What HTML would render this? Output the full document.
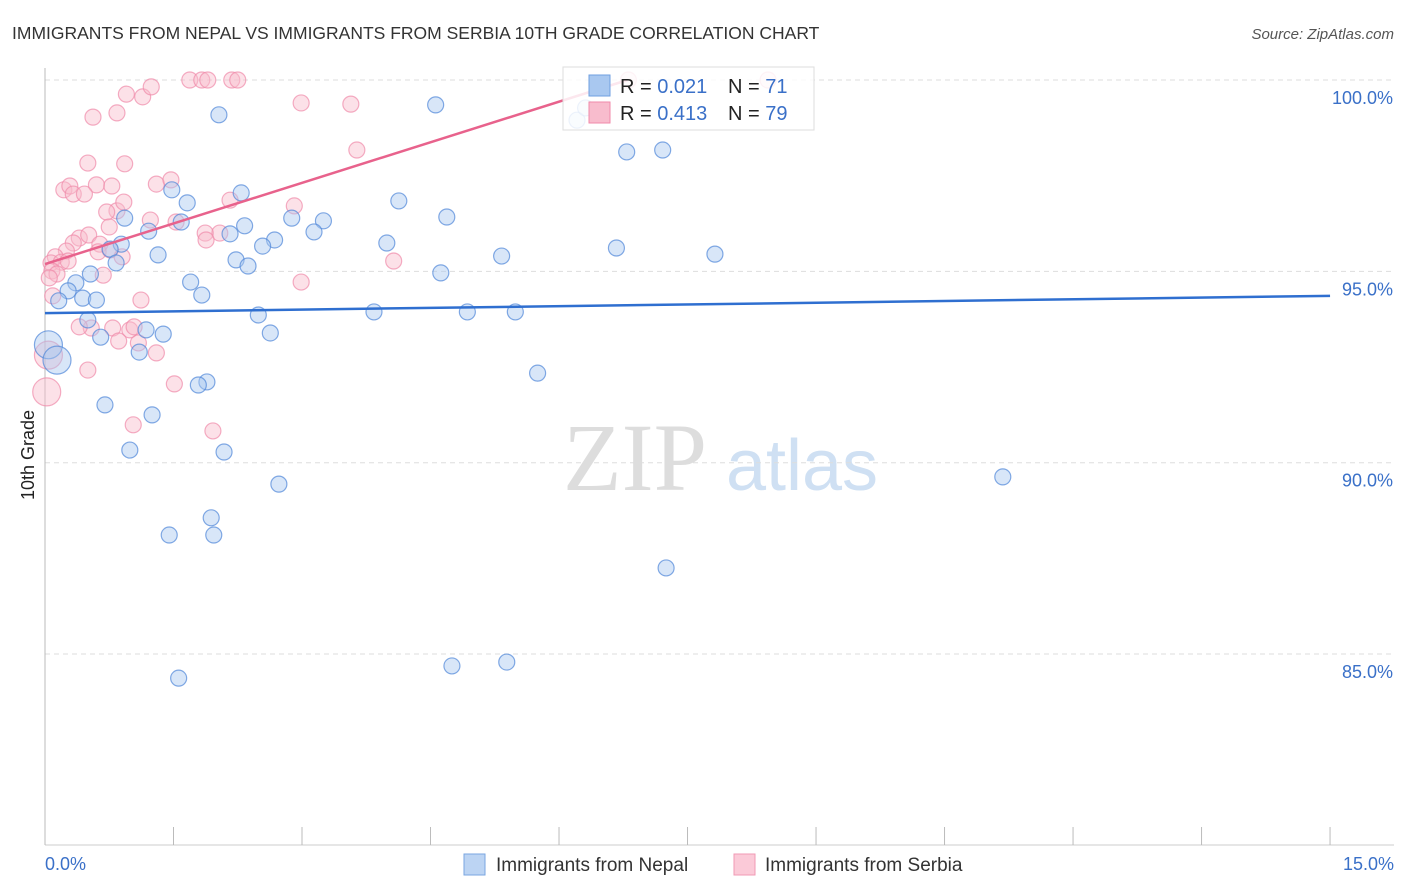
<!DOCTYPE html>
<html><head><meta charset="utf-8"><style>
body{margin:0;background:#fff;font-family:"Liberation Sans",Arial,sans-serif}
svg{display:block}
</style></head><body>
<svg id="chart" width="1406" height="892" viewBox="0 0 1406 892">
<text x="12" y="39" font-size="17.5" fill="#333">IMMIGRANTS FROM NEPAL VS IMMIGRANTS FROM SERBIA 10TH GRADE CORRELATION CHART</text>
<text x="1394" y="39" font-size="15" fill="#555" font-style="italic" text-anchor="end">Source: ZipAtlas.com</text>
<text transform="translate(34,455) rotate(-90)" font-size="18" fill="#222" text-anchor="middle">10th Grade</text>
<g><text x="635" y="490" font-size="96" fill="#ddd" font-family="Liberation Serif,serif" text-anchor="middle">ZIP</text><text x="802" y="490" font-size="72" fill="#cfe0f3" text-anchor="middle">atlas</text></g>
<g id="grid"></g><g id="axes"></g><g id="pts"></g><g id="lines"></g>
<g>
<rect x="563" y="67" width="251" height="63" fill="#fff" fill-opacity="0.85" stroke="#ddd"/>
<rect x="589" y="75" width="21" height="21" fill="#a9c8f0" stroke="#6f9fe0"/>
<rect x="589" y="102" width="21" height="21" fill="#f8bccd" stroke="#f08aaa"/>
<text x="620" y="93" font-size="20" fill="#222">R = <tspan fill="#3a70c8">0.021</tspan></text>
<text x="728" y="93" font-size="20" fill="#222">N = <tspan fill="#3a70c8"> 71</tspan></text>
<text x="620" y="120" font-size="20" fill="#222">R = <tspan fill="#3a70c8">0.413</tspan></text>
<text x="728" y="120" font-size="20" fill="#222">N = <tspan fill="#3a70c8">79</tspan></text>
</g>
<g>
<rect x="464" y="854" width="21" height="21" fill="#bcd4f3" stroke="#7aa6e0"/>
<text x="496" y="871" font-size="19" fill="#333">Immigrants from Nepal</text>
<rect x="734" y="854" width="21" height="21" fill="#fbcad8" stroke="#f09ab4"/>
<text x="765" y="871" font-size="19" fill="#333">Immigrants from Serbia</text>
</g>
</svg>
<script>
const yTicks=[100,95,90,85];
const xTickLabels=["0.0%","15.0%"];
const nepalX=[2.03,4.56,6.79,7.21,6.21,6.31,1.48,1.66,2.29,0.93,1.21,1.59,2.16,2.33,2.88,3.25,3.14,4.13,4.69,2.68,2.54,0.89,0.76,0.83,1.32,2.23,2.37,3.99,5.33,6.67,7.82,4.62,0.53,0.36,1.70,1.83,0.27,0.44,0.60,0.16,0.50,2.49,3.84,4.93,5.49,0.65,1.18,1.38,2.63,1.10,0.04,0.14,5.75,1.89,1.79,1.25,0.70,0.99,2.09,2.73,1.94,1.45,1.97,7.25,11.18,4.75,5.39,1.56];
const nepalY=[99.09,99.35,98.12,98.17,98.95,99.27,97.13,96.79,97.05,96.39,96.05,96.29,95.98,96.19,96.39,96.32,96.03,96.84,96.42,95.82,95.66,95.71,95.58,95.22,95.43,95.30,95.14,95.74,95.40,95.61,95.45,94.96,94.93,94.70,94.72,94.38,94.49,94.30,94.25,94.23,93.73,93.86,93.94,93.94,93.94,93.28,93.47,93.36,93.39,92.89,93.08,92.68,92.34,92.11,92.03,91.25,91.51,90.33,90.28,89.44,88.56,88.11,88.11,87.25,89.63,84.69,84.79,84.37];
const nepalBig=[50,51];
const serbiaX=[1.69,1.83,1.90,2.18,2.25,8.44,6.81,0.95,1.14,1.24,2.99,3.57,0.56,0.84,3.64,0.50,0.93,0.22,0.29,0.33,0.60,0.78,1.30,1.47,0.84,0.92,0.72,1.23,1.53,0.46,2.16,2.04,2.91,0.75,0.40,0.51,0.33,0.25,0.64,0.62,0.76,0.90,0.12,0.07,0.19,0.27,0.08,0.14,0.05,0.68,4.07,2.99,0.09,1.12,0.54,0.40,0.79,0.99,1.04,0.86,1.09,1.30,0.50,1.51,1.03,1.96,0.02,0.04,1.87,1.88];
const serbiaY=[100,100,100,100,100,100,100,99.63,99.56,99.82,99.40,99.37,99.03,99.14,98.17,97.83,97.81,97.13,97.23,97.02,97.26,97.23,97.28,97.39,96.58,96.81,96.55,96.34,96.29,97.02,96.86,96.00,96.71,96.16,95.87,95.95,95.74,95.53,95.71,95.51,95.56,95.38,95.38,95.22,95.24,95.27,95.01,94.93,94.83,94.90,95.27,94.72,94.36,94.25,93.52,93.55,93.52,93.47,93.55,93.18,93.13,92.87,92.42,92.06,90.99,90.83,91.85,92.81,96.00,95.82];
const serbiaBig=[66,67];
const trendNepal=[93.91,94.36]; // y at x=0 and x=15
const trendSerbia=[95.19,100,6.8]; // y at 0, y at end, end x
const X=v=>45+v*85.67, Y=v=>80+(100-v)*38.27;
const NS="http://www.w3.org/2000/svg";
function mk(t,a,p){const e=document.createElementNS(NS,t);for(const k in a)e.setAttribute(k,a[k]);p.appendChild(e);return e;}
const grid=document.getElementById('grid'),axes=document.getElementById('axes'),pts=document.getElementById('pts'),lines=document.getElementById('lines');
yTicks.forEach(t=>{
 const l=mk('line',{x1:45,x2:1394,y1:Y(t),y2:Y(t),stroke:'#ddd','stroke-dasharray':'5,4'},grid);
 
 
 const tx=mk('text',{x:1393,y:Y(t)+24,'font-size':18,fill:'#3a70c8','text-anchor':'end'},axes);
 tx.textContent=t.toFixed(1)+'%';
 
 
});
const ax=mk('line',{x1:45,x2:45,y1:68,y2:845,stroke:'#bbb'},axes);


const bx=mk('line',{x1:45,x2:1394,y1:845,y2:845,stroke:'#ccc'},axes);


for(let i=0;i<=10;i++){const t=mk('line',{x1:X(i*1.5),x2:X(i*1.5),y1:827,y2:845,stroke:'#bbb'},axes);
 
 }
[[0,'start',45],[15,'end',1394]].forEach((d,i)=>{const t=mk('text',{x:d[2],y:870,'font-size':18,fill:'#3a70c8','text-anchor':d[1]},axes);t.textContent=xTickLabels[i];
 
 });
function dots(xs,ys,big,fill,stroke,name){xs.forEach((x,i)=>{const b=big.includes(i);
 const c=mk('circle',{cx:X(x),cy:Y(ys[i]),r:b?14:8,fill:fill,'fill-opacity':0.45,stroke:stroke,'stroke-opacity':0.7,'stroke-width':1.2},pts);
 
 });}
dots(serbiaX,serbiaY,serbiaBig,'#f8bccd','#f08aaa','serbia-point');
dots(nepalX,nepalY,nepalBig,'#a9c8f0','#4f86d8','nepal-point');
const tn=mk('line',{x1:X(0),y1:Y(trendNepal[0]),x2:X(15),y2:Y(trendNepal[1]),stroke:'#2f6fd0','stroke-width':2.5},lines);


const ts=mk('line',{x1:X(0),y1:Y(trendSerbia[0]),x2:X(trendSerbia[2]),y2:Y(trendSerbia[1]),stroke:'#e8628c','stroke-width':2.5},lines);


</script>
</body></html>
